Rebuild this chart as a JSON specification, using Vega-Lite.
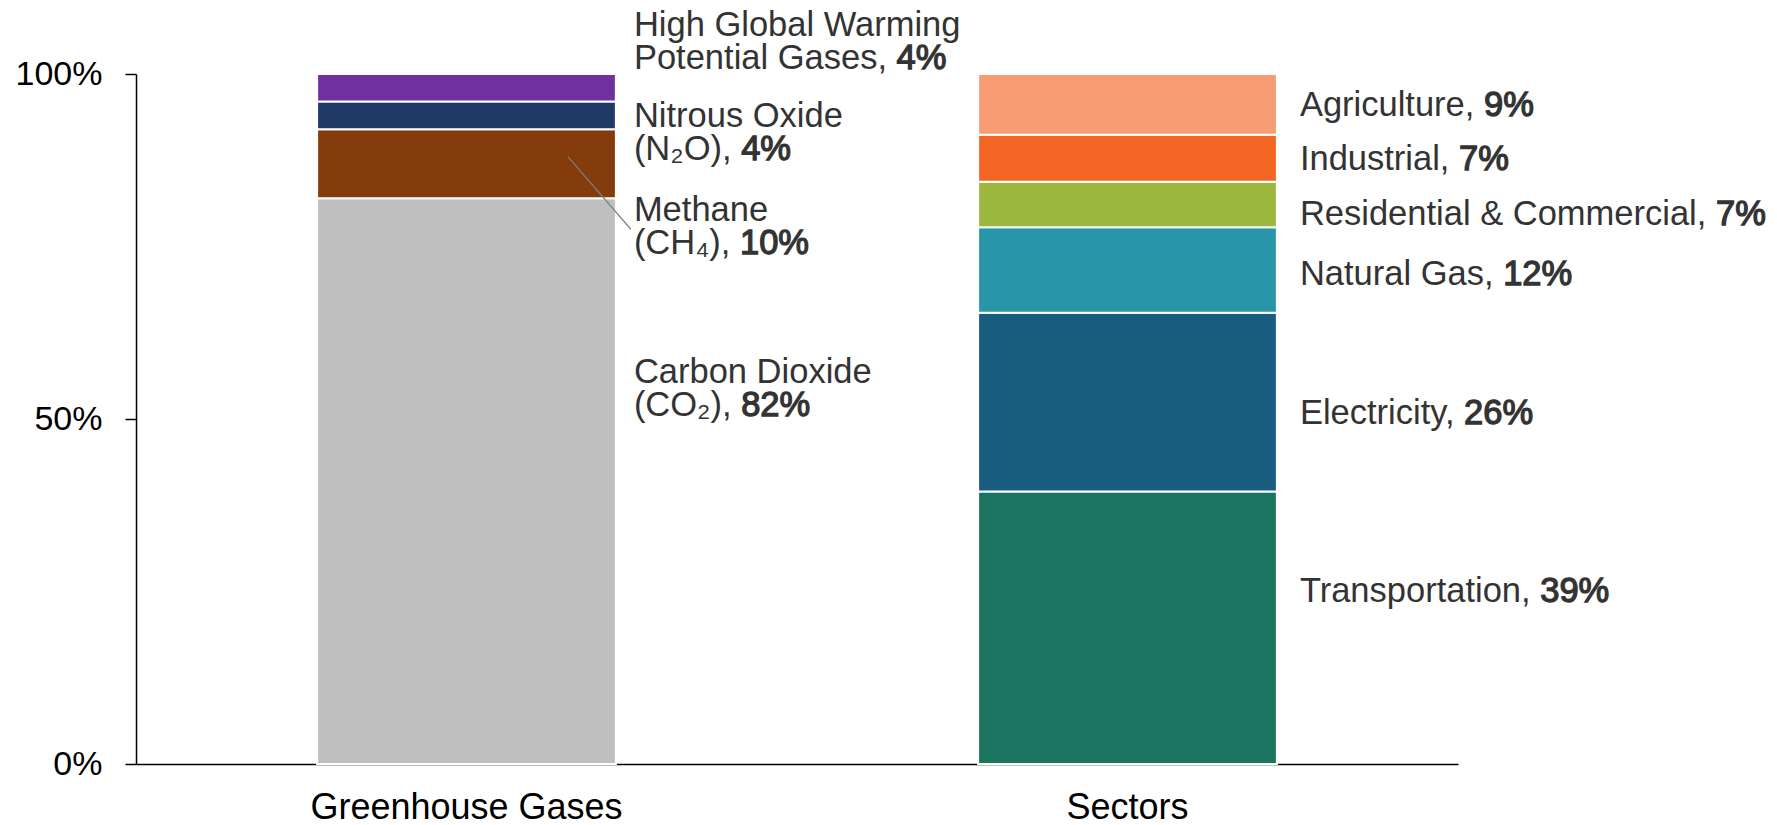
{
  "$schema": "https://vega.github.io/schema/vega-lite/v6.json",
  "width": 1322,
  "height": 690,
  "autosize": {"type": "none"},
  "padding": {"left": 136, "top": 74, "right": 319, "bottom": 61},
  "background": "white",
  "config": {"view": {"stroke": null}, "font": "Liberation Sans"},
  "datasets": {
    "bars": [
      {"cat": "Greenhouse Gases", "item": "Carbon Dioxide", "value": 82, "order": 1},
      {"cat": "Greenhouse Gases", "item": "Methane", "value": 10, "order": 2},
      {"cat": "Greenhouse Gases", "item": "Nitrous Oxide", "value": 4, "order": 3},
      {"cat": "Greenhouse Gases", "item": "High Global Warming Potential Gases", "value": 4, "order": 4},
      {"cat": "Sectors", "item": "Transportation", "value": 39.5, "order": 1},
      {"cat": "Sectors", "item": "Electricity", "value": 25.9, "order": 2},
      {"cat": "Sectors", "item": "Natural Gas", "value": 12.4, "order": 3},
      {"cat": "Sectors", "item": "Residential & Commercial", "value": 6.6, "order": 4},
      {"cat": "Sectors", "item": "Industrial", "value": 6.8, "order": 5},
      {"cat": "Sectors", "item": "Agriculture", "value": 8.8, "order": 6}
    ],
    "labels": [
      {"cat": "Greenhouse Gases", "y": 107.0, "name": ["High Global Warming", "Potential Gases, "], "full": ["High Global Warming", "Potential Gases, 4%"]},
      {"cat": "Greenhouse Gases", "y": 93.8, "name": ["Nitrous Oxide", "(N₂O), "], "full": ["Nitrous Oxide", "(N₂O), 4%"]},
      {"cat": "Greenhouse Gases", "y": 80.1, "name": ["Methane", "(CH₄), "], "full": ["Methane", "(CH₄), 10%"]},
      {"cat": "Greenhouse Gases", "y": 56.6, "name": ["Carbon Dioxide", "(CO₂), "], "full": ["Carbon Dioxide", "(CO₂), 82%"]},
      {"cat": "Sectors", "y": 95.4, "name": "Agriculture, ", "full": "Agriculture, 9%"},
      {"cat": "Sectors", "y": 87.6, "name": "Industrial, ", "full": "Industrial, 7%"},
      {"cat": "Sectors", "y": 79.6, "name": "Residential & Commercial, ", "full": "Residential & Commercial, 7%"},
      {"cat": "Sectors", "y": 70.8, "name": "Natural Gas, ", "full": "Natural Gas, 12%"},
      {"cat": "Sectors", "y": 50.7, "name": "Electricity, ", "full": "Electricity, 26%"},
      {"cat": "Sectors", "y": 24.9, "name": "Transportation, ", "full": "Transportation, 39%"}
    ],
    "leader": [
      {"cat": "Greenhouse Gases", "y1": 88.0, "y2": 77.5}
    ]
  },
  "layer": [
    {
      "data": {"name": "bars"},
      "mark": {"type": "bar", "stroke": "white", "strokeWidth": 2},
      "encoding": {
        "x": {
          "field": "cat", "type": "nominal", "sort": ["Greenhouse Gases", "Sectors"],
          "scale": {"paddingInner": 0.548, "paddingOuter": 0.274},
          "axis": {
            "title": null, "labelAngle": 0, "ticks": false, "labelPadding": 26, "labelLimit": 1000,
            "labelFontSize": 36, "labelColor": "black", "labelFont": "Liberation Sans",
            "domainColor": "black", "domainWidth": 1.5, "labelBaseline": "top"
          }
        },
        "y": {
          "field": "value", "type": "quantitative", "stack": "zero",
          "scale": {"domain": [0, 100], "nice": false},
          "axis": {
            "title": null, "values": [0, 50, 100], "labelExpr": "datum.value + '%'",
            "grid": false, "tickSize": 11, "tickWidth": 1.5, "tickColor": "black",
            "domainColor": "black", "domainWidth": 1.5, "labelPadding": 23,
            "labelFontSize": 34, "labelColor": "black", "labelFont": "Liberation Sans"
          }
        },
        "order": {"field": "order", "type": "quantitative"},
        "color": {
          "field": "item", "type": "nominal", "legend": null,
          "scale": {
            "domain": ["Carbon Dioxide", "Methane", "Nitrous Oxide", "High Global Warming Potential Gases", "Transportation", "Electricity", "Natural Gas", "Residential & Commercial", "Industrial", "Agriculture"],
            "range": ["#BFBFBF", "#843C0C", "#203864", "#7030A0", "#1A745F", "#185C80", "#2896A8", "#9CB73D", "#F26522", "#F79C72"]
          }
        }
      }
    },
    {
      "data": {"name": "leader"},
      "mark": {"type": "rule", "color": "#7F7F7F", "strokeWidth": 1.2},
      "encoding": {
        "x": {"field": "cat", "type": "nominal", "bandPosition": 0.84},
        "x2": {"field": "cat", "bandPosition": 1.05},
        "y": {"field": "y1", "type": "quantitative"},
        "y2": {"field": "y2"}
      }
    },
    {
      "data": {"name": "labels"},
      "transform": [{"filter": "datum.cat == 'Greenhouse Gases'"}],
      "mark": {"type": "text", "align": "left", "baseline": "middle", "dx": 18, "font": "Liberation Sans", "fontSize": 34.5, "lineHeight": 33, "fill": "#333333", "stroke": "#333333", "strokeWidth": 1.3},
      "encoding": {
        "x": {"field": "cat", "type": "nominal", "bandPosition": 1},
        "y": {"field": "y", "type": "quantitative"},
        "text": {"field": "full"}
      }
    },
    {
      "data": {"name": "labels"},
      "transform": [{"filter": "datum.cat == 'Greenhouse Gases'"}],
      "mark": {"type": "text", "align": "left", "baseline": "middle", "dx": 18, "font": "Liberation Sans", "fontSize": 34.5, "lineHeight": 33, "fill": "white", "stroke": "white", "strokeWidth": 3},
      "encoding": {
        "x": {"field": "cat", "type": "nominal", "bandPosition": 1},
        "y": {"field": "y", "type": "quantitative"},
        "text": {"field": "name"}
      }
    },
    {
      "data": {"name": "labels"},
      "transform": [{"filter": "datum.cat == 'Greenhouse Gases'"}],
      "mark": {"type": "text", "align": "left", "baseline": "middle", "dx": 18, "font": "Liberation Sans", "fontSize": 34.5, "lineHeight": 33, "fill": "#333333"},
      "encoding": {
        "x": {"field": "cat", "type": "nominal", "bandPosition": 1},
        "y": {"field": "y", "type": "quantitative"},
        "text": {"field": "name"}
      }
    },
    {
      "data": {"name": "labels"},
      "transform": [{"filter": "datum.cat == 'Sectors'"}],
      "mark": {"type": "text", "align": "left", "baseline": "middle", "dx": 23, "font": "Liberation Sans", "fontSize": 34.5, "lineHeight": 33, "fill": "#333333", "stroke": "#333333", "strokeWidth": 1.3},
      "encoding": {
        "x": {"field": "cat", "type": "nominal", "bandPosition": 1},
        "y": {"field": "y", "type": "quantitative"},
        "text": {"field": "full"}
      }
    },
    {
      "data": {"name": "labels"},
      "transform": [{"filter": "datum.cat == 'Sectors'"}],
      "mark": {"type": "text", "align": "left", "baseline": "middle", "dx": 23, "font": "Liberation Sans", "fontSize": 34.5, "lineHeight": 33, "fill": "white", "stroke": "white", "strokeWidth": 3},
      "encoding": {
        "x": {"field": "cat", "type": "nominal", "bandPosition": 1},
        "y": {"field": "y", "type": "quantitative"},
        "text": {"field": "name"}
      }
    },
    {
      "data": {"name": "labels"},
      "transform": [{"filter": "datum.cat == 'Sectors'"}],
      "mark": {"type": "text", "align": "left", "baseline": "middle", "dx": 23, "font": "Liberation Sans", "fontSize": 34.5, "lineHeight": 33, "fill": "#333333"},
      "encoding": {
        "x": {"field": "cat", "type": "nominal", "bandPosition": 1},
        "y": {"field": "y", "type": "quantitative"},
        "text": {"field": "name"}
      }
    }
  ]
}
